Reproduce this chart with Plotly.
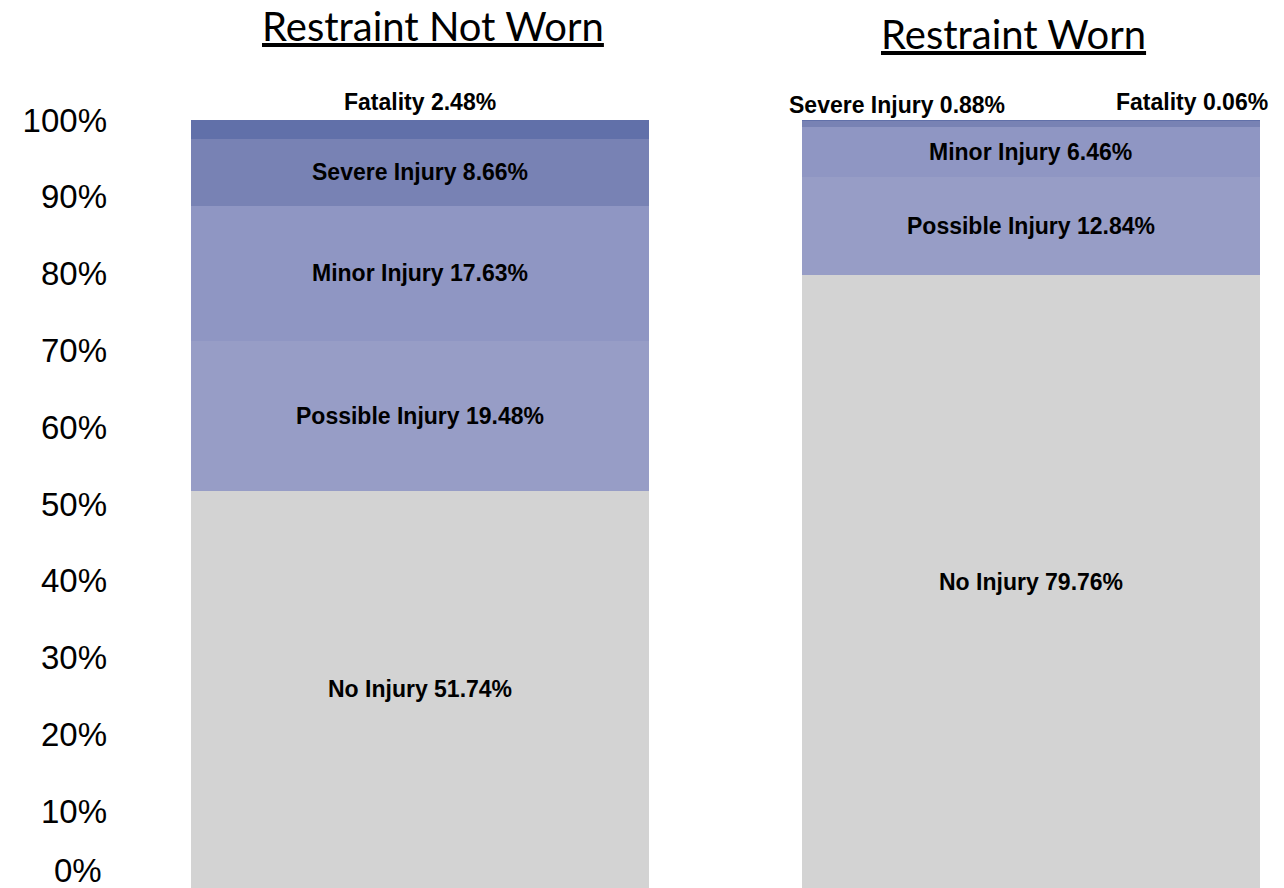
import plotly.graph_objects as go

categories = ["Restraint Not Worn", "Restraint Worn"]
levels = ["No Injury", "Possible Injury", "Minor Injury", "Severe Injury", "Fatality"]
not_worn = [51.74, 19.48, 17.63, 8.66, 2.48]
worn = [79.76, 12.84, 6.46, 0.88, 0.06]
colors = ["#d3d3d3", "#979dc6", "#8f96c3", "#7882b4", "#6170a9"]
tick_vals = [10, 20, 30, 40, 50, 60, 70, 80, 90, 100]
tick_text = ["10%", "20%", "30%", "40%", "50%", "60%", "70%", "80%", "90%", "100%"]

OFF = 8  # page body margin in the browser
W, H = 1284 - OFF, 888 - OFF
ML, MR, MT, MB = 108 - OFF, 24, 120 - OFF, 0
BAR_W = 0.75
X0 = -0.51
X1 = 1.375

series = [not_worn, worn]
xs = [0, 1]

fig = go.Figure()
for i, lvl in enumerate(levels):
    fig.add_trace(go.Bar(
        x=xs, y=[s[i] for s in series], name=lvl,
        marker=dict(color=colors[i], line=dict(width=0)),
        width=BAR_W, hoverinfo="skip", showlegend=False))

label_font = dict(family="Arial, Liberation Sans", size=23, color="black")
annotations = []
for xi, s in zip(xs, series):
    cum = 0
    for i, lvl in enumerate(levels):
        v = s[i]
        mid = cum + v / 2
        cum += v
        text = f"<b>{lvl} {v:.2f}%</b>"
        if v >= 3:
            annotations.append(dict(x=xi, y=mid, xref="x", yref="y", text=text,
                                    showarrow=False, font=label_font,
                                    xanchor="center", yanchor="middle"))
        else:
            if xi == 0:
                annotations.append(dict(x=xi, y=100, xref="x", yref="y", text=text,
                                        showarrow=False, font=label_font,
                                        xanchor="center", yanchor="middle", yshift=18))
            elif lvl == "Severe Injury":
                annotations.append(dict(x=xi - BAR_W / 2, y=100, xref="x", yref="y", text=text,
                                        showarrow=False, font=label_font,
                                        xanchor="left", yanchor="middle", xshift=-15, yshift=15))
            else:
                annotations.append(dict(x=xi + BAR_W / 2, y=100, xref="x", yref="y", text=text,
                                        showarrow=False, font=label_font,
                                        xanchor="right", yanchor="middle", xshift=10, yshift=18))

# zero tick label (raised to stay on the page)
annotations.append(dict(x=0, y=0, xref="paper", yref="y", text="0%", showarrow=False,
                        font=dict(family="Arial, Liberation Sans", size=33, color="black"),
                        xanchor="right", yanchor="middle", xshift=-4, yshift=18))

title_font = dict(family="Lato, Open Sans", size=40, color="black")
pw = W - ML - MR
ph = H - MT - MB
for title, cx, cy in [(categories[0], 433 - OFF, 26 - OFF), (categories[1], 1013 - OFF, 34 - OFF)]:
    annotations.append(dict(x=(cx - ML) / pw, y=1 + (MT - cy) / ph, xref="paper", yref="paper",
                            text=f"<u>{title}</u>", showarrow=False, font=title_font,
                            xanchor="center", yanchor="middle"))

fig.update_layout(
    width=W, height=H,
    margin=dict(l=ML, r=MR, t=MT, b=MB, pad=0),
    barmode="stack",
    plot_bgcolor="white", paper_bgcolor="white",
    xaxis=dict(range=[X0, X1], showticklabels=False, showgrid=False, zeroline=False,
               showline=False, ticks=""),
    yaxis=dict(range=[0, 100], tickvals=tick_vals, ticktext=tick_text, showgrid=False,
               zeroline=False, showline=False, ticks="",
               tickfont=dict(family="Arial, Liberation Sans", size=33, color="black")),
    annotations=annotations,
)

fig.write_html("out.html")
